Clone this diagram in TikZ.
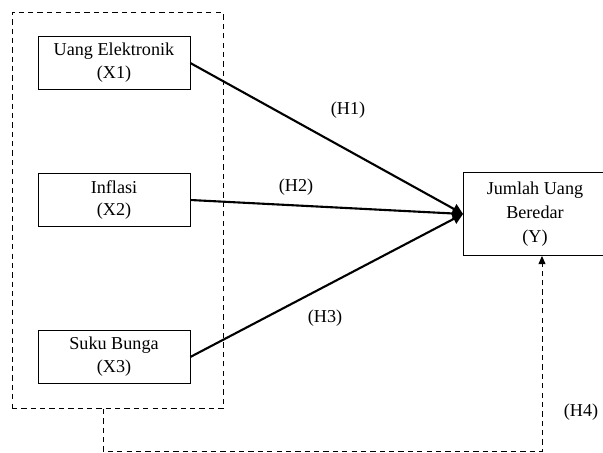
\documentclass[tikz,border=0pt]{standalone}
\usepackage{fontspec}
\setmainfont{Liberation Serif}
\usetikzlibrary{arrows.meta,positioning}

\begin{document}
\begin{tikzpicture}[x=0.03cm,y=-0.03cm,
    var/.style={rectangle,draw,line width=0.5pt,minimum width=4.56cm,minimum height=1.6cm,align=center,font=\fontsize{15.5}{19.5}\selectfont},
    hyp/.style={font=\fontsize{15.5}{18}\selectfont},
    path/.style={line width=1.8pt,-{Triangle[length=9pt,width=9pt]}},
    dashpath/.style={line width=0.8pt,dash pattern=on 4.5pt off 3.5pt}]
    \useasboundingbox (0,0) rectangle (603,453);

    \node[draw,dashpath,minimum width=6.33cm,minimum height=11.88cm] (grp) at (117.5,210.5) {};

    \node[var] (x1) at (114,63) {Uang Elektronik\\(X1)};
    \node[var] (x2) at (114,200) {Inflasi\\(X2)};
    \node[var] (x3) at (114,357) {Suku Bunga\\(X3)};
    \node[var,minimum width=4.3cm,minimum height=2.5cm,font=\fontsize{15.5}{20.5}\selectfont] (y) at (535,214) {Jumlah Uang\\Beredar\\(Y)};

    \draw[path] (x1.east) -- (y.west);
    \draw[path] (x2.east) -- (y.west);
    \draw[path] (x3.east) -- (y.west);

    \node[hyp] (h1) at (348,110) {(H1)};
    \node[hyp] (h2) at (296,187) {(H2)};
    \node[hyp] (h3) at (325,318) {(H3)};
    \node[hyp] (h4) at (581,412) {(H4)};

    \coordinate (d) at (103,451);
    \draw[dashpath,-{Triangle[length=7pt,width=6pt]}] (grp.south -| d) -- (d) -| ([xshift=0.21cm]y.south);
\end{tikzpicture}
\end{document}
